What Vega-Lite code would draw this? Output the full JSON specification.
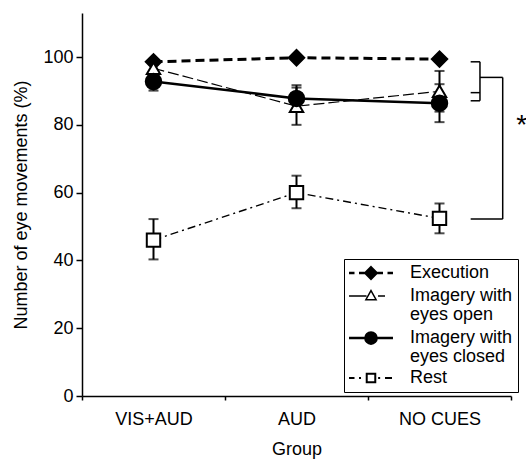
{
  "$schema": "https://vega.github.io/schema/vega-lite/v6.json",
  "width": 429,
  "height": 383,
  "autosize": {"type": "none"},
  "padding": {"left": 82, "top": 13, "right": 15, "bottom": 73},
  "background": "white",
  "config": {
    "view": {"stroke": null},
    "font": "Liberation Sans",
    "style": {"guide-label": {"lineHeight": 18.5}},
    "axis": {
      "grid": false,
      "domainColor": "black",
      "domainWidth": 1.5,
      "tickColor": "black",
      "tickWidth": 1.5,
      "labelColor": "black",
      "labelFont": "Liberation Sans",
      "labelFontSize": 18,
      "titleFont": "Liberation Sans",
      "titleFontSize": 18,
      "titleFontWeight": "normal",
      "titleColor": "black"
    }
  },
  "datasets": {
    "means": [
      {"group": "VIS+AUD", "series": "Execution", "mean": 98.6, "lo": 97.8, "hi": 99.4},
      {"group": "AUD", "series": "Execution", "mean": 99.8, "lo": 99.1, "hi": 100.5},
      {"group": "NO CUES", "series": "Execution", "mean": 99.4, "lo": 98.7, "hi": 100.1},
      {"group": "VIS+AUD", "series": "Imagery with eyes open", "mean": 96.7, "lo": 95.2, "hi": 98.2},
      {"group": "AUD", "series": "Imagery with eyes open", "mean": 85.5, "lo": 80.0, "hi": 91.0},
      {"group": "NO CUES", "series": "Imagery with eyes open", "mean": 89.9, "lo": 83.9, "hi": 95.9},
      {"group": "VIS+AUD", "series": "Imagery with eyes closed", "mean": 92.8, "lo": 90.1, "hi": 95.5},
      {"group": "AUD", "series": "Imagery with eyes closed", "mean": 87.8, "lo": 84.0, "hi": 91.7},
      {"group": "NO CUES", "series": "Imagery with eyes closed", "mean": 86.4, "lo": 80.8, "hi": 92.0},
      {"group": "VIS+AUD", "series": "Rest", "mean": 46.0, "lo": 40.3, "hi": 52.2},
      {"group": "AUD", "series": "Rest", "mean": 60.0, "lo": 55.4, "hi": 65.0},
      {"group": "NO CUES", "series": "Rest", "mean": 52.4, "lo": 48.0, "hi": 56.8}
    ]
  },
  "layer": [
    {
      "data": {"name": "means"},
      "transform": [{"filter": "datum.series == 'Execution'"}],
      "mark": {"type": "line", "color": "black", "strokeWidth": 3, "strokeDash": [9, 5]},
      "encoding": {
        "x": {
          "field": "group", "type": "nominal",
          "scale": {"type": "band", "domain": ["VIS+AUD", "AUD", "NO CUES"], "paddingInner": 0, "paddingOuter": 0},
          "axis": {"title": "Group", "labelAngle": 0, "tickBand": "extent", "tickSize": 4, "labelPadding": 10, "titlePadding": 12}
        },
        "y": {
          "field": "mean", "type": "quantitative",
          "scale": {"domain": [0, 113], "nice": false},
          "axis": {"title": "Number of eye movements (%)", "values": [0, 20, 40, 60, 80, 100], "tickSize": 6, "labelPadding": 3, "titlePadding": 12}
        }
      }
    },
    {
      "data": {"name": "means"},
      "transform": [{"filter": "datum.series == 'Imagery with eyes open'"}],
      "mark": {"type": "line", "color": "black", "strokeWidth": 1.2, "strokeDash": [11, 4]},
      "encoding": {
        "x": {"field": "group", "type": "nominal"},
        "y": {"field": "mean", "type": "quantitative"}
      }
    },
    {
      "data": {"name": "means"},
      "transform": [{"filter": "datum.series == 'Imagery with eyes closed'"}],
      "mark": {"type": "line", "color": "black", "strokeWidth": 2.5},
      "encoding": {
        "x": {"field": "group", "type": "nominal"},
        "y": {"field": "mean", "type": "quantitative"}
      }
    },
    {
      "data": {"name": "means"},
      "transform": [{"filter": "datum.series == 'Rest'"}],
      "mark": {"type": "line", "color": "black", "strokeWidth": 1.4, "strokeDash": [8, 4, 2, 4]},
      "encoding": {
        "x": {"field": "group", "type": "nominal"},
        "y": {"field": "mean", "type": "quantitative"}
      }
    },
    {
      "data": {"name": "means"},
      "mark": {"type": "rule", "color": "black", "strokeWidth": 2},
      "encoding": {
        "x": {"field": "group", "type": "nominal"},
        "y": {"field": "lo", "type": "quantitative"},
        "y2": {"field": "hi"}
      }
    },
    {
      "data": {"name": "means"},
      "mark": {"type": "tick", "orient": "horizontal", "color": "black", "size": 10, "thickness": 2},
      "encoding": {
        "x": {"field": "group", "type": "nominal"},
        "y": {"field": "lo", "type": "quantitative"}
      }
    },
    {
      "data": {"name": "means"},
      "mark": {"type": "tick", "orient": "horizontal", "color": "black", "size": 10, "thickness": 2},
      "encoding": {
        "x": {"field": "group", "type": "nominal"},
        "y": {"field": "hi", "type": "quantitative"}
      }
    },
    {
      "data": {"name": "means"},
      "mark": {"type": "point", "filled": true, "stroke": "black", "strokeWidth": 2, "opacity": 1},
      "encoding": {
        "x": {"field": "group", "type": "nominal"},
        "y": {"field": "mean", "type": "quantitative"},
        "fill": {"condition": {"test": "datum.series == 'Execution' || datum.series == 'Imagery with eyes closed'", "value": "black"}, "value": "white"},
        "size": {"condition": {"test": "datum.series == 'Execution' || datum.series == 'Imagery with eyes closed'", "value": 240}, "value": 180},
        "shape": {
          "condition": [
            {"test": "datum.series == 'Execution'", "value": "diamond"},
            {"test": "datum.series == 'Imagery with eyes open'", "value": "triangle-up"},
            {"test": "datum.series == 'Imagery with eyes closed'", "value": "circle"}
          ],
          "value": "square"
        }
      }
    },
    {
      "data": {"name": "means"},
      "mark": {"type": "point", "filled": true, "size": 225, "opacity": 0},
      "encoding": {
        "x": {"field": "group", "type": "nominal"},
        "y": {"field": "mean", "type": "quantitative"},
        "fill": {
          "field": "series", "type": "nominal",
          "scale": {"domain": ["Execution", "Imagery with eyes open", "Imagery with eyes closed", "Rest"], "range": ["black", "white", "black", "white"]}
        },
        "stroke": {
          "field": "series", "type": "nominal",
          "scale": {"domain": ["Execution", "Imagery with eyes open", "Imagery with eyes closed", "Rest"], "range": ["black", "black", "black", "black"]}
        },
        "strokeWidth": {
          "field": "series", "type": "nominal",
          "scale": {"type": "ordinal", "domain": ["Execution", "Imagery with eyes open", "Imagery with eyes closed", "Rest"], "range": [2.5, 1.5, 2.5, 2]}
        },
        "shape": {
          "field": "series", "type": "nominal",
          "scale": {
            "domain": ["Execution", "Imagery with eyes open", "Imagery with eyes closed", "Rest"],
            "range": [
              "M-2.93,0H-2.2M-1.6,0H-0.85M0.85,0H1.6M2.2,0H2.93M0,-0.75L0.75,0L0,0.75L-0.75,0Z",
              "M-2.93,0H-0.6M0.93,0H1.87M0,-0.72L0.68,0.5L-0.68,0.5Z",
              "M-2.93,0H2.93M-0.75,0A0.75,0.75 0 1 0 0.75,0A0.75,0.75 0 1 0 -0.75,0Z",
              "M-2.93,0H-2.2M-1.6,0H-1.33M-0.57,-0.57H0.57V0.57H-0.57ZM0.95,0H1.22M1.87,0H2.8"
            ]
          },
          "legend": {
            "title": null,
            "orient": "none",
            "legendX": 262,
            "legendY": 246,
            "padding": 5,
            "strokeColor": "black",
            "fillColor": "white",
            "symbolOpacity": 1,
            "symbolSize": 225,
            "labelFont": "Liberation Sans",
            "labelFontSize": 18,
            "labelColor": "black",
            "labelLimit": 220,
            "labelBaseline": "middle",
            "symbolOffset": 13,
            "labelOffset": 30,
            "rowPadding": 3,
            "labelExpr": "datum.label == 'Imagery with eyes open' ? ['Imagery with', 'eyes open'] : datum.label == 'Imagery with eyes closed' ? ['Imagery with', 'eyes closed'] : datum.label"
          }
        }
      }
    },
    {
      "data": {"values": [{"group": "NO CUES", "y": 98.6, "y2": 87.1}]},
      "mark": {"type": "rule", "color": "black", "strokeWidth": 1.5},
      "encoding": {
        "x": {"field": "group", "type": "nominal", "bandPosition": 0.783},
        "y": {"field": "y", "type": "quantitative"},
        "y2": {"field": "y2"}
      }
    },
    {
      "data": {"values": [{"group": "NO CUES", "y": 94.0, "y2": 52.2}]},
      "mark": {"type": "rule", "color": "black", "strokeWidth": 1.5},
      "encoding": {
        "x": {"field": "group", "type": "nominal", "bandPosition": 0.942},
        "y": {"field": "y", "type": "quantitative"},
        "y2": {"field": "y2"}
      }
    },
    {
      "data": {"values": [{"group": "NO CUES", "y": 98.6}, {"group": "NO CUES", "y": 89.5}, {"group": "NO CUES", "y": 87.1}]},
      "mark": {"type": "rule", "color": "black", "strokeWidth": 1.5},
      "encoding": {
        "x": {"field": "group", "type": "nominal", "bandPosition": 0.718},
        "x2": {"field": "group", "bandPosition": 0.783},
        "y": {"field": "y", "type": "quantitative"}
      }
    },
    {
      "data": {"values": [{"group": "NO CUES", "y": 94.0}]},
      "mark": {"type": "rule", "color": "black", "strokeWidth": 1.5},
      "encoding": {
        "x": {"field": "group", "type": "nominal", "bandPosition": 0.783},
        "x2": {"field": "group", "bandPosition": 0.942},
        "y": {"field": "y", "type": "quantitative"}
      }
    },
    {
      "data": {"values": [{"group": "NO CUES", "y": 52.2}]},
      "mark": {"type": "rule", "color": "black", "strokeWidth": 1.5},
      "encoding": {
        "x": {"field": "group", "type": "nominal", "bandPosition": 0.718},
        "x2": {"field": "group", "bandPosition": 0.942},
        "y": {"field": "y", "type": "quantitative"}
      }
    },
    {
      "data": {"values": [{"group": "NO CUES", "y": 81.4, "label": "*"}]},
      "mark": {"type": "text", "color": "black", "fontSize": 28, "font": "Liberation Sans", "baseline": "middle", "align": "center", "dy": 6},
      "encoding": {
        "x": {"field": "group", "type": "nominal", "bandPosition": 1.075},
        "y": {"field": "y", "type": "quantitative"},
        "text": {"field": "label"}
      }
    }
  ]
}
